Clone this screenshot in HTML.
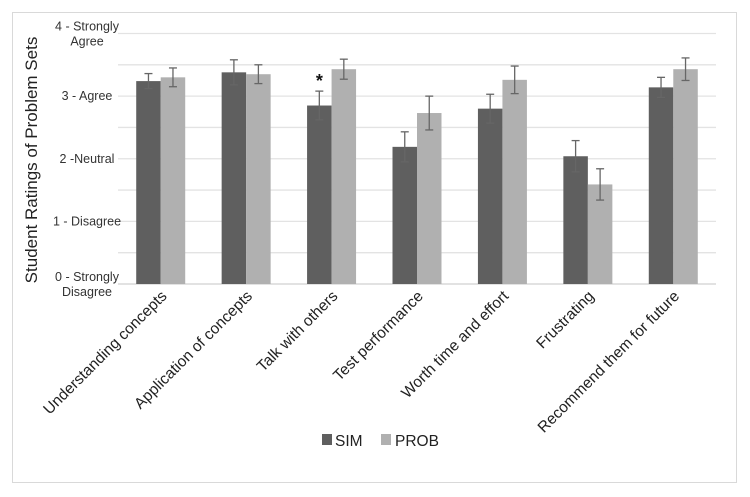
<!DOCTYPE html>
<html><head><meta charset="utf-8"><style>
body{margin:0;background:#fff;}
svg{display:block;font-family:"Liberation Sans",sans-serif;}
</style></head><body>
<svg width="750" height="497" viewBox="0 0 750 497">
<rect x="12.5" y="12.5" width="724" height="470" fill="#fff" stroke="#d9d9d9"/>
<g id="grid"></g><g id="bars"></g><g id="labels"></g>
<text transform="translate(37,160) rotate(-90)" text-anchor="middle" font-size="17" fill="#222">Student Ratings of Problem Sets</text>
<text x="314" y="174" font-size="18" font-weight="bold" text-anchor="middle" fill="#111" id="star">*</text>
<g>
<rect x="322" y="434" width="10" height="11" fill="#5f5f5f"/>
<text x="335" y="446" font-size="15.5" fill="#222">SIM</text>
<rect x="381" y="434" width="10" height="11" fill="#b0b0b0"/>
<text x="395" y="446" font-size="15.5" fill="#222">PROB</text>
</g>
</svg>
<script>
const categories=["Understanding concepts","Application of concepts","Talk with others","Test performance","Worth time and effort","Frustrating","Recommend them for future"];
const simValues=[3.24,3.38,2.85,2.19,2.80,2.04,3.14];
const probValues=[3.30,3.35,3.43,2.73,3.26,1.59,3.43];
const simErr=[0.12,0.20,0.23,0.24,0.23,0.25,0.16];
const probErr=[0.15,0.15,0.16,0.27,0.22,0.25,0.18];
const yTicks=[0,1,2,3,4];
const yTickLabels=[["0 - Strongly","Disagree"],["1 - Disagree"],["2 -Neutral"],["3 - Agree"],["4 - Strongly","Agree"]];
const NS="http://www.w3.org/2000/svg";
const X0=118,X1=716,Y0=284,Y4=33.5;
const y=v=>Y0-(v/4)*(Y0-Y4);
const band=(X1-X0)/categories.length;
const cx=i=>X0+band*(i+0.5);
const BW=24.5;
function mk(tag,attrs,parent){const e=document.createElementNS(NS,tag);for(const k in attrs)e.setAttribute(k,attrs[k]);parent.appendChild(e);return e;}
const grid=document.getElementById('grid'),bars=document.getElementById('bars'),labels=document.getElementById('labels');
for(let v=0;v<=4;v+=0.5){const l=mk('line',{x1:X0,x2:X1,y1:y(v),y2:y(v),stroke:v===0?'#d0d0d0':'#e3e3e3','stroke-width':1.3},grid);

}
yTicks.forEach((t,i)=>{const lines=yTickLabels[i];const tx=mk('text',{x:87,y:y(t)+4-(lines.length>1?7:0),'text-anchor':'middle','font-size':12.5,fill:'#333'},labels);


lines.forEach((s,j)=>{const ts=mk('tspan',{x:87,dy:j?15:0},tx);ts.textContent=s;});});
function err(xc,v,e){const g=mk('g',{stroke:'#666','stroke-width':1.3},bars);


mk('line',{x1:xc,x2:xc,y1:y(v+e),y2:y(v-e)},g);mk('line',{x1:xc-4,x2:xc+4,y1:y(v+e),y2:y(v+e)},g);mk('line',{x1:xc-4,x2:xc+4,y1:y(v-e),y2:y(v-e)},g);}
categories.forEach((c,i)=>{
const xs=cx(i)-BW,xp=cx(i);
const r1=mk('rect',{x:xs,y:y(simValues[i]),width:BW,height:Y0-y(simValues[i]),fill:'#5f5f5f'},bars);


const r2=mk('rect',{x:xp,y:y(probValues[i]),width:BW,height:Y0-y(probValues[i]),fill:'#b0b0b0'},bars);


err(xs+BW/2,simValues[i],simErr[i]);err(xp+BW/2,probValues[i],probErr[i]);
const t=mk('text',{transform:`translate(${cx(i)+7},${297}) rotate(-45)`,'text-anchor':'end','font-size':15.5,fill:'#222'},labels);


t.textContent=c;});
const st=document.getElementById('star');st.setAttribute('x',cx(2)-BW/2);st.setAttribute('y',y(simValues[2]+simErr[2])-4);
</script>
</body></html>
